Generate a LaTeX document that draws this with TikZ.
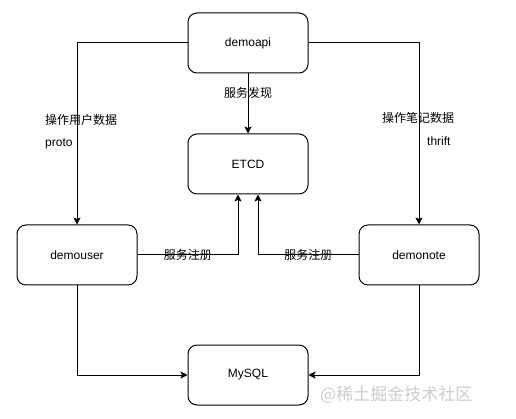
\documentclass[tikz,border=0pt]{standalone}
\usepackage{fontspec}
\setmainfont{Liberation Sans}
\newfontfamily\cjk{Noto Sans CJK SC}
\usetikzlibrary{arrows.meta, positioning}
\tikzset{
    service/.style={rectangle, rounded corners=9pt, minimum width=120pt, minimum height=60pt, text centered, draw=black, line width=1pt},
    arrow/.style={line width=1pt, -{Stealth[length=7pt,width=7pt,inset=1.5pt]}},
    annot/.style={font=\cjk\fontsize{12}{14}\selectfont, inner sep=0pt},
}

\begin{document}
\begin{tikzpicture}[x=1pt,y=-1pt,font=\fontsize{12}{14}\selectfont]
  \useasboundingbox (0,0) rectangle (516,419);
  \node[service]         (api)  at (248,43) {demoapi};
  \node[service]         (etcd) [below=60pt of api] {ETCD};
  \node[service]         (user) [below left=30pt and 50pt of etcd] {demouser};
  \node[service]         (notesvc) [below right=30pt and 50pt of etcd] {demonote};
  \node[service]         (db) [below=150pt of etcd] {MySQL};

  \draw[arrow] (api.west) -| (user.north);
  \draw[arrow] (api.east) -| (notesvc.north);
  \draw[arrow] (api) -- node[annot, pos=0.33] {服务发现} (etcd);
  \draw[arrow] (user.east) -| node[annot, pos=0.25] {服务注册} ([xshift=-10pt]etcd.south);
  \draw[arrow] (notesvc.west) -| node[annot, pos=0.25] {服务注册} ([xshift=10pt]etcd.south);
  \draw[arrow] (user.south) |- (db.west);
  \draw[arrow] (notesvc.south) |- (db.east);

  \node[annot, anchor=west] (userop)    at (45,120)  {操作用户数据};
  \node[inner sep=0pt, anchor=west] (userproto) at (45,144) {proto};
  \node[annot, anchor=west] (noteop)    at (382,118) {操作笔记数据};
  \node[inner sep=0pt, anchor=west] (notethrift) at (427,141) {thrift};

  \node[annot, anchor=west, text=gray!40, font=\cjk\fontsize{17}{17}\selectfont] (mark) at (320,395) {@稀土掘金技术社区};
\end{tikzpicture}
\end{document}
